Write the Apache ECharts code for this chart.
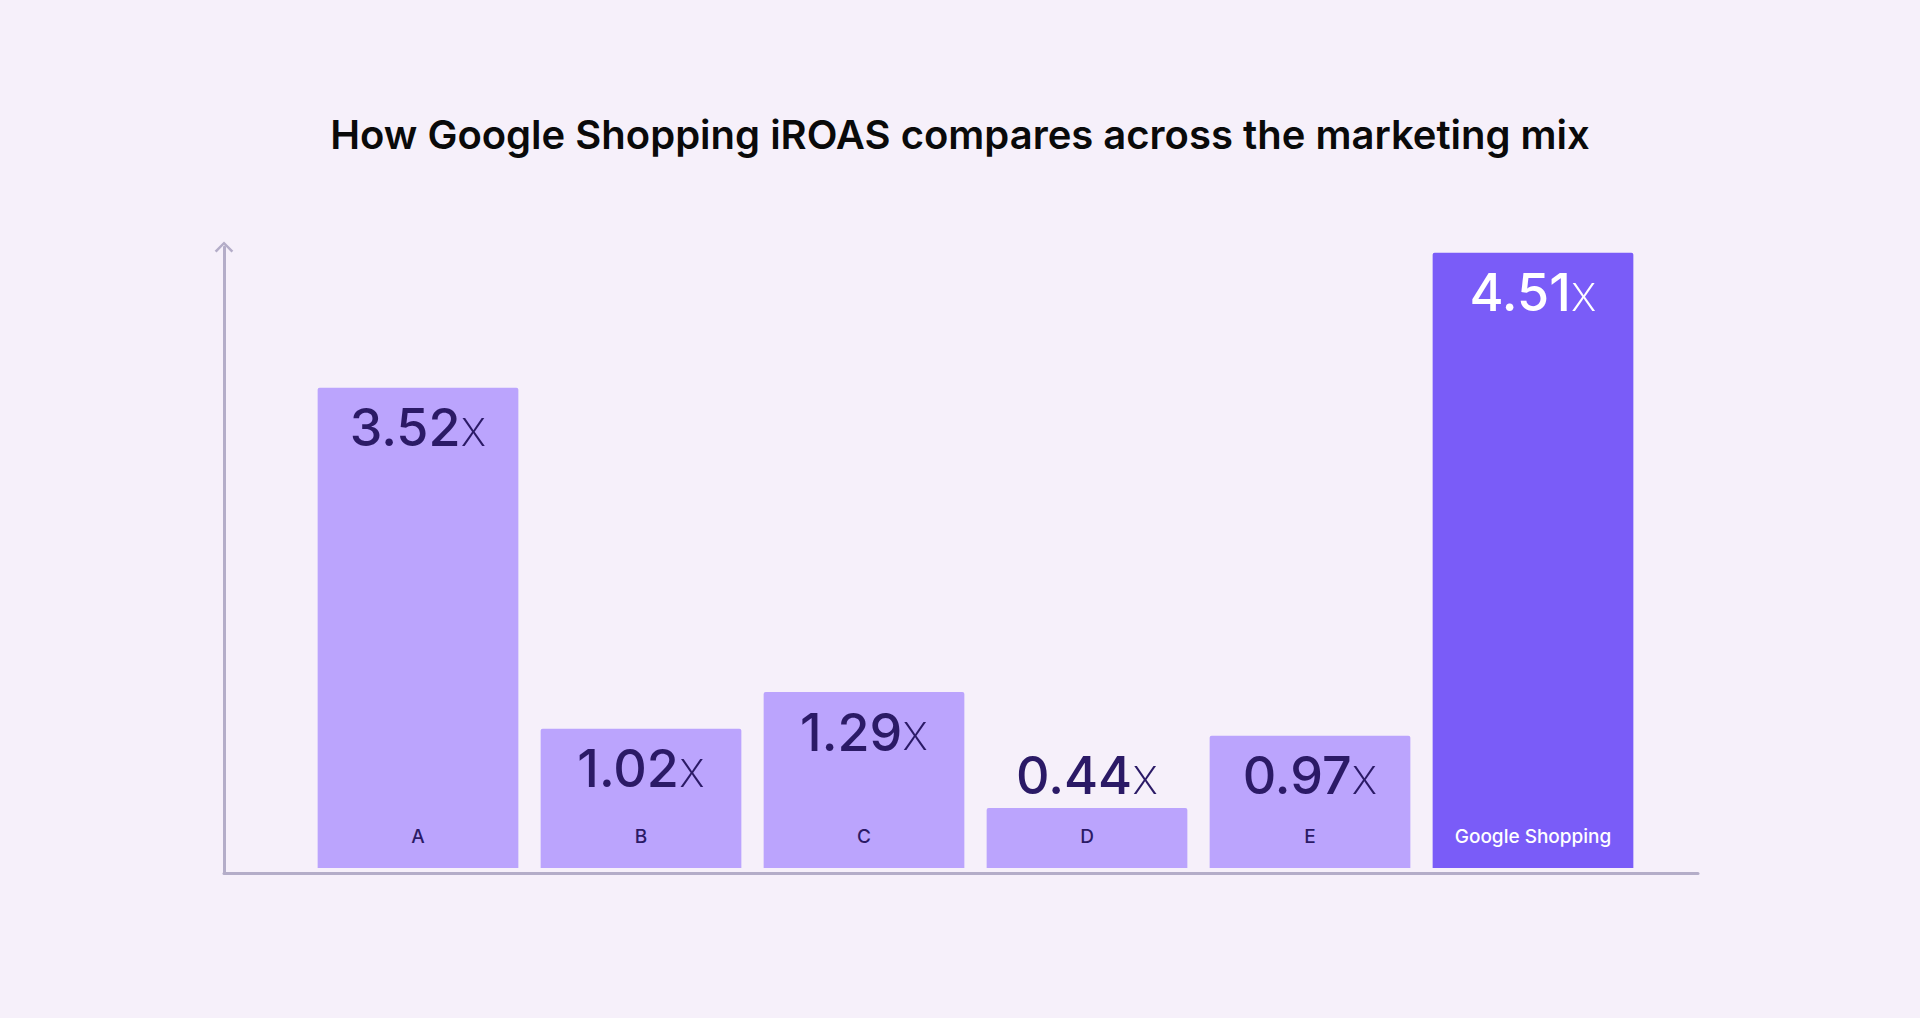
<!DOCTYPE html>
<html>
<head>
<meta charset="utf-8">
<title>Google Shopping iROAS</title>
<script src="https://cdn.jsdelivr.net/npm/echarts@6/dist/echarts.min.js"></script>
<style>
    html, body { margin: 0; padding: 0; width: 100%; height: 100%; background: #f6f0fa; }
    #chart { width: 1920px; height: 1018px; }
</style>
</head>
<body>
<div id="chart"></div>
<script>
var categories = ['A', 'B', 'C', 'D', 'E', 'Google Shopping'];
var iroas = [3.52, 1.02, 1.29, 0.44, 0.97, 4.51];
var highlight = 'Google Shopping';

var light = '#bba4fd';
var strong = '#7a5cf8';
var ink = '#2b1a66';
var axisGrey = '#b4adc8';

var myChart = echarts.init(document.getElementById('chart'), null, { renderer: 'svg' });

// bar items: highlighted one gets the strong colour and white text
var barData = iroas.map(function (v, i) {
    var hot = categories[i] === highlight;
    var small = v < 0.8;
    return {
        value: v,
        itemStyle: { color: hot ? strong : light },
        label: {
            position: small ? 'top' : 'insideTop',
            distance: small ? 6 : 14,
            rich: {
                v: { color: hot ? '#ffffff' : ink },
                x: { color: hot ? '#ffffff' : ink }
            }
        }
    };
});

var catData = categories.map(function (c) {
    return { value: c, textStyle: { color: c === highlight ? '#ffffff' : ink } };
});

var option = {
    backgroundColor: '#f6f0fa',
    animation: false,
    title: {
        text: 'How Google Shopping iROAS compares across the marketing mix',
        left: 'center',
        top: 109,
        textStyle: {
            fontFamily: 'Inter',
            fontWeight: 600,
            fontSize: 40,
            color: '#0a0a0a'
        }
    },
    grid: [
        // bars
        { left: 306.5, right: 275.5, top: 186, bottom: 150 },
        // the L-shaped axis frame
        { left: 224, right: 222, top: 247, bottom: 145 }
    ],
    xAxis: [
        {
            type: 'category',
            gridIndex: 0,
            z: 10,
            data: catData,
            axisLine: { show: false },
            axisTick: { show: false },
            axisLabel: {
                inside: true,
                margin: 22,
                fontFamily: 'Inter',
                fontWeight: 500,
                fontSize: 19
            }
        },
        {
            type: 'value',
            gridIndex: 1,
            min: 0,
            max: 1,
            axisLine: { show: true, lineStyle: { color: axisGrey, width: 3 } },
            axisTick: { show: false },
            axisLabel: { show: false },
            splitLine: { show: false }
        }
    ],
    yAxis: [
        {
            type: 'value',
            gridIndex: 0,
            min: 0,
            max: 5,
            show: false
        },
        {
            type: 'value',
            gridIndex: 1,
            min: 0,
            max: 1,
            axisLine: {
                show: true,
                lineStyle: { color: axisGrey, width: 3 },
                symbol: ['none', 'path://M0,10 L10,0 L20,10 L18,11.8 L10,3.6 L2,11.8 Z'],
                symbolSize: [20, 11]
            },
            axisTick: { show: false },
            axisLabel: { show: false },
            splitLine: { show: false }
        }
    ],
    series: [
        {
            type: 'bar',
            xAxisIndex: 0,
            yAxisIndex: 0,
            data: barData,
            barCategoryGap: '10%',
            itemStyle: { borderRadius: [2, 2, 0, 0] },
            label: {
                show: true,
                formatter: function (p) {
                    return '{v|' + p.value.toFixed(2) + '}{x|x}';
                },
                rich: {
                    v: { fontFamily: 'Inter', fontWeight: 500, fontSize: 52 },
                    x: { fontFamily: 'Inter', fontWeight: 200, fontSize: 50 }
                }
            }
        }
    ]
};

myChart.setOption(option);
</script>
</body>
</html>
